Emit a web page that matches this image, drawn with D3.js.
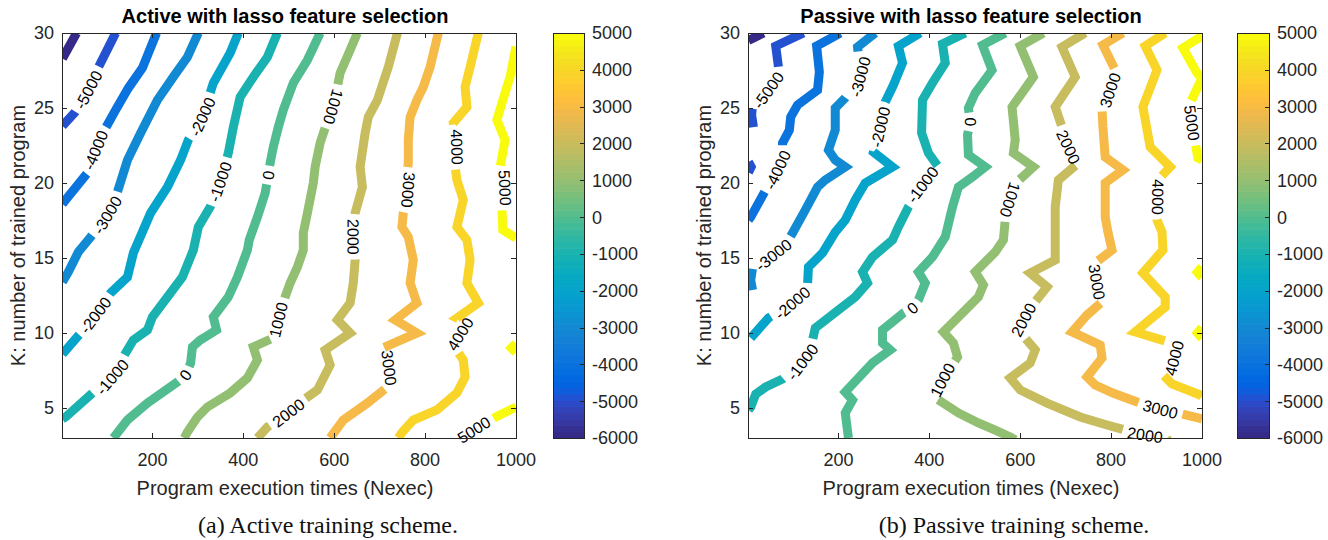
<!DOCTYPE html>
<html><head><meta charset="utf-8">
<script src="https://cdn.jsdelivr.net/npm/d3@7"></script>
<style>body{margin:0;background:#fff}svg{display:block}</style>
</head><body>
<svg id="chart" width="1328" height="540"></svg>
<script>
// ---------------- data ----------------
const levels = [-6000,-5000,-4000,-3000,-2000,-1000,0,1000,2000,3000,4000,5000];
const xTicks = [200,400,600,800,1000];
const yTicks = [5,10,15,20,25,30];
const xDomain = [1,1000];
const yDomain = [3,30];
const cDomain = [-6000,5000];

const titles = ["Active with lasso feature selection","Passive with lasso feature selection"];
const captions = ["(a) Active training scheme.","(b) Passive training scheme."];
const xLabel = "Program execution times (Nexec)";
const yLabel = "K: number of trained program";

// contour lines: [level, [[Nexec, K], ...]]
const activeLines = [
 [-6000,[[33,30],[2,28.3]]],
 [-5000,[[119,30],[81,27.7],[59,26.2],[29,24.7],[2,23.8]]],
 [-4000,[[209,30],[178,27.67],[147,26.33],[119,24.87],[97,23.67],[75,22.2],[57,20.67],[9,18.87],[2,18.6]]],
 [-3000,[[301,30],[277,28.4],[246,27.07],[211,25.53],[174,23.33],[145,21.53],[123,19.4],[101,17.87],[64,16.4],[37,15.4],[15,14.07],[2,13.4]]],
 [-2000,[[389,30],[371,28.67],[334,26.67],[310,24.4],[279,22.87],[262,21.53],[233,19.73],[196,18],[158,15.33],[145,13.73],[108,12.67],[75,11.2],[42,10],[2,8.6]]],
 [-1000,[[475,30],[453,28.4],[422,27.07],[393,25.73],[378,23.73],[367,22],[349,20.07],[327,18.4],[301,17.07],[290,15.53],[266,13.73],[233,12.4],[200,11.07],[189,10.2],[158,9.53],[141,8.67],[112,7.07],[68,6],[9,4.4],[2,4.27]]],
 [0,[[569,30],[541,28.2],[510,26.67],[488,24.87],[477,23.73],[466,22.4],[459,21.33],[455,20.53],[448,19.33],[431,17.73],[413,16.2],[409,15.53],[387,13.73],[367,12.4],[334,11.07],[341,10.2],[305,9.53],[288,9.07],[284,8],[273,7.2],[255,6.73],[189,5.33],[145,4.2],[114,3]]],
 [1000,[[651,30],[635,28.87],[613,27.33],[598,25.07],[580,23.67],[569,22.67],[558,21.07],[554,20],[541,18],[532,16.67],[532,15.53],[519,14.4],[503,13.33],[492,12.4],[477,10.87],[470,9.73],[422,9.07],[431,8.2],[409,7],[371,6],[321,5.07],[299,4.4],[277,3.4],[270,3]]],
 [2000,[[739,30],[719,27.73],[695,25.53],[675,24.4],[668,23.33],[657,21.07],[662,19.73],[646,18],[642,16.4],[646,14.87],[642,13.33],[635,12],[607,10.87],[635,10],[580,8.87],[591,7.87],[563,6.2],[532,5.53],[499,4.67],[453,3.73],[431,3]]],
 [3000,[[829,30],[811,27.73],[796,26.4],[782,25.53],[767,24.4],[763,22.87],[763,21.33],[761,20.87],[763,19.53],[752,18],[749,17.07],[763,16.4],[774,14.87],[767,13.33],[782,12],[734,10.87],[782,10],[706,9],[721,7.67],[717,6.4],[673,5.33],[620,4.2],[591,3]]],
 [4000,[[917,30],[899,27.73],[888,26.4],[892,25.07],[862,24],[870,22.4],[866,21.07],[870,20.2],[884,18.87],[870,17.07],[892,16.2],[899,14.87],[892,13.33],[917,12],[870,11],[892,10.67],[877,9.93],[862,9.2],[884,8.2],[888,7.07],[870,6],[826,4.87],[774,4.2],[750,3.4],[741,3]]],
 [5000,[[1000,29.1],[987,27.07],[971,25.53],[958,24.2],[976,22.87],[965,21.07],[976,19.67],[969,18.33],[971,16.87],[1000,16.33]]],
 [5000,[[1000,9.3],[990,9.0],[1000,8.7]]],
 [5000,[[1000,5.07],[960,4.47],[921,3.8],[866,2.73]]]
];
// labels: [level, Nexec, K, reading direction]
const activeLabels = [
 [-5000,59,26.2,"u"],[-4000,75,22.2,"u"],[-3000,101,17.87,"u"],
 [-2000,310,24.4,"u"],[-2000,75,11.2,"u"],
 [-1000,349,20.07,"u"],[-1000,112,7.07,"u"],
 [0,455,20.53,""],[0,273,7.2,""],
 [1000,598,25.07,"d"],[1000,477,10.87,"u"],
 [2000,642,16.4,"d"],[2000,499,4.67,"u"],
 [3000,763,19.53,"d"],[3000,721,7.67,"d"],
 [4000,870,22.4,"d"],[4000,877,9.93,"u"],
 [5000,976,19.67,"d"],[5000,908,3.53,""]
];

const passiveLines = [
 [-6000,[[35,30],[2,29.5]]],
 [-5000,[[123,30],[62,29.13],[68,27.73],[46,26.2],[11,25.2],[9,24.53],[13,23.73]]],
 [-5000,[[2,21.4],[8,21.07],[2,20.7]]],
 [-4000,[[204,30],[152,29.13],[158,27.4],[154,26.2],[110,25.2],[95,24.4],[92,23.53],[77,22.67],[77,21.87],[66,20.87],[46,19.87],[7,17.73],[2,17.53]]],
 [-3000,[[281,30],[242,29.07],[244,28.53],[248,27.07],[215,25.67],[193,25],[193,23.53],[178,22.2],[193,21.53],[215,21.07],[171,20.2],[154,19.73],[127,18.2],[99,16.67],[90,16.2],[57,15.2],[11,14.33],[7,13.53],[11,12.87]]],
 [-2000,[[380,30],[332,29.13],[341,28],[321,26.53],[303,25.4],[292,23.73],[277,22.07],[319,21.07],[259,20],[237,18.87],[215,17.53],[193,16.73],[165,15.33],[134,14.4],[132,13.2],[99,12],[46,11],[7,9.67]]],
 [-1000,[[479,30],[429,29.27],[435,28],[407,26.67],[385,25.53],[383,23.33],[398,22],[420,21.07],[385,19.87],[354,18.4],[332,17.07],[319,16.2],[275,15.07],[253,14.07],[264,13.33],[237,12.4],[200,11.53],[149,10.33],[143,9.53],[121,8.07],[77,6.93],[40,6.4],[18,5.93],[7,5.07],[2,4.87]]],
 [0,[[567,30],[517,29.2],[538,27.53],[501,26],[486,25],[490,24.07],[484,23.2],[486,21.87],[523,21.07],[495,20.4],[464,19.73],[451,18.4],[435,16.4],[407,15.07],[376,14.07],[391,13.33],[376,12.2],[363,11.67],[343,11.33],[297,10.2],[297,9.33],[314,8.87],[275,8],[215,6.07],[231,5.53],[215,4.67],[222,3]]],
 [1000,[[651,30],[600,29.13],[629,27.07],[582,25.07],[589,22.87],[585,22],[629,21.07],[593,20.07],[578,18.87],[567,17.53],[563,16.2],[545,15.4],[501,14.07],[519,13.2],[508,12.4],[464,11.07],[431,10.07],[453,9.33],[462,8.4],[446,7.67],[429,6.87],[413,5.67],[464,4.67],[508,4],[545,3.53],[578,3.07],[589,2.87]]],
 [2000,[[743,30],[692,29.07],[721,27.07],[677,25.07],[692,23.73],[706,22.4],[728,21.33],[684,20.2],[677,18.4],[677,16.73],[677,14.87],[622,14],[659,13.07],[622,11.67],[607,10.87],[596,10.2],[633,8.87],[622,8],[578,7],[600,6.2],[659,5.33],[732,4.4],[791,3.87],[831,3.53],[875,3.2],[919,3.13],[925,2.87]]],
 [3000,[[826,30],[782,29.2],[809,27.53],[798,26.2],[780,24.87],[782,23.73],[787,21.73],[826,20.87],[787,20],[787,17.73],[793,16.73],[802,15.53],[765,14.67],[769,13.4],[780,12.07],[747,11.2],[714,10.07],[776,9.2],[780,8.33],[747,7.07],[765,6.53],[804,6],[864,5.33],[908,4.93],[956,4.6],[1000,4.27]]],
 [4000,[[919,30],[875,29.13],[901,27.53],[870,25.07],[886,22.4],[930,21.07],[903,20.2],[903,19.07],[901,17.53],[912,16.73],[914,15.53],[870,14],[919,12.4],[919,11.73],[853,10.07],[934,9.33],[939,8.33],[912,7.27],[934,6.6],[996,5.87],[1000,5.75]]],
 [5000,[[1000,29.8],[958,29],[989,27.33],[1000,27],[974,25.33],[978,24],[985,22.67],[991,21.67],[1000,21.53]]],
 [5000,[[1000,14.4],[990,14.05],[1000,13.7]]],
 [5000,[[1000,10.35],[990,10.0],[1000,9.65]]]
];
const passiveLabels = [
 [-5000,46,26.2,"u"],[-4000,66,20.87,"u"],
 [-3000,248,27.07,"u"],[-3000,57,15.2,"u"],
 [-2000,292,23.73,"u"],[-2000,99,12,"u"],
 [-1000,385,19.87,"u"],[-1000,121,8.07,"u"],
 [0,490,24.07,""],[0,363,11.67,""],
 [1000,578,18.87,"d"],[1000,429,6.87,"u"],
 [2000,706,22.4,"d"],[2000,607,10.87,"u"],[2000,875,3.2,""],
 [3000,798,26.2,"u"],[3000,769,13.4,"d"],[3000,908,4.93,""],
 [4000,903,19.07,"d"],[4000,939,8.33,"u"],
 [5000,978,24,"d"]
];

// parula colormap (64 entries)
const parula = [[0.2081,0.1663,0.5292],[0.2116,0.1898,0.5777],[0.2123,0.2138,0.6270],[0.2081,0.2386,0.6771],[0.1959,0.2645,0.7279],[0.1707,0.2919,0.7792],[0.1253,0.3242,0.8303],[0.0591,0.3598,0.8683],[0.0117,0.3875,0.8820],[0.0060,0.4086,0.8828],[0.0165,0.4266,0.8786],[0.0329,0.4430,0.8720],[0.0498,0.4586,0.8641],[0.0629,0.4737,0.8554],[0.0723,0.4887,0.8467],[0.0779,0.5040,0.8384],[0.0793,0.5200,0.8312],[0.0749,0.5375,0.8263],[0.0641,0.5570,0.8240],[0.0488,0.5772,0.8228],[0.0343,0.5966,0.8199],[0.0265,0.6137,0.8135],[0.0239,0.6287,0.8038],[0.0231,0.6418,0.7913],[0.0228,0.6535,0.7768],[0.0267,0.6642,0.7607],[0.0384,0.6743,0.7436],[0.0590,0.6838,0.7254],[0.0843,0.6928,0.7062],[0.1133,0.7015,0.6859],[0.1453,0.7098,0.6646],[0.1801,0.7177,0.6424],[0.2178,0.7250,0.6193],[0.2586,0.7317,0.5954],[0.3022,0.7376,0.5712],[0.3482,0.7424,0.5473],[0.3953,0.7459,0.5244],[0.4420,0.7481,0.5033],[0.4871,0.7491,0.4840],[0.5300,0.7491,0.4661],[0.5709,0.7485,0.4494],[0.6099,0.7473,0.4337],[0.6473,0.7456,0.4188],[0.6834,0.7435,0.4044],[0.7184,0.7411,0.3905],[0.7525,0.7384,0.3768],[0.7858,0.7356,0.3633],[0.8185,0.7327,0.3498],[0.8507,0.7299,0.3360],[0.8824,0.7274,0.3217],[0.9139,0.7258,0.3063],[0.9450,0.7261,0.2886],[0.9739,0.7314,0.2666],[0.9938,0.7455,0.2403],[0.9990,0.7653,0.2164],[0.9955,0.7861,0.1967],[0.9880,0.8066,0.1794],[0.9789,0.8271,0.1633],[0.9697,0.8481,0.1475],[0.9626,0.8705,0.1309],[0.9589,0.8949,0.1132],[0.9598,0.9218,0.0948],[0.9661,0.9514,0.0755],[0.9763,0.9831,0.0538]];
const parulaHex = parula.map(c => d3.rgb(c[0]*255,c[1]*255,c[2]*255).formatHex());
const parulaInterp = d3.interpolateRgbBasis ? d3.piecewise(d3.interpolateRgb, parulaHex) : null;

// ---------------- drawing ----------------
const svg = d3.select("#chart");
const FONT = "'Liberation Sans', Arial, Helvetica, sans-serif";
const AX = "#262626";
const colorScale = d3.scaleLinear().domain(cDomain).range([0,1]).clamp(true);
const colorOf = v => parulaInterp(colorScale(v));

const panels = [
  {x0:62, x1:516, y0:33, y1:438, cb0:553, cb1:584, capX:328, lines:activeLines, labels:activeLabels, title:titles[0], caption:captions[0]},
  {x0:748, x1:1202, y0:33, y1:438, cb0:1237, cb1:1269, capX:1014, lines:passiveLines, labels:passiveLabels, title:titles[1], caption:captions[1]}
];

panels.forEach((P, pi) => {
  const g = svg.append("g");
  const x = d3.scaleLinear().domain(xDomain).range([P.x0, P.x1]);
  const y = d3.scaleLinear().domain(yDomain).range([P.y1, P.y0]);
  const clipId = "clip" + pi;
  g.append("clipPath").attr("id", clipId).append("rect")
    .attr("x", P.x0).attr("y", P.y0).attr("width", P.x1-P.x0).attr("height", P.y1-P.y0);

  const lineGen = d3.line().x(d => x(d[0])).y(d => y(d[1]));
  const lineLayer = g.append("g").attr("clip-path", `url(#${clipId})`);
  const labelLayer = g.append("g");

  const paths = P.lines.map(([lvl, pts]) => {
    const p = lineLayer.append("path")
      .attr("d", lineGen(pts))
      .attr("fill", "none")
      .attr("stroke", colorOf(lvl))
      .attr("stroke-width", 9)
      .attr("stroke-linejoin", "miter")
      .attr("stroke-miterlimit", 2.5)
      .attr("stroke-linecap", "butt");
    return {lvl, node: p.node(), gaps: [], L: p.node().getTotalLength()};
  });

  const pad = 5;
  P.labels.forEach(([lvl, lx, ly, mode]) => {
    const px = x(lx), py = y(ly);
    let best = null;
    paths.filter(p => p.lvl === lvl).forEach(p => {
      for (let s = 0; s <= p.L; s += 0.5) {
        const pt = p.node.getPointAtLength(s);
        const d = (pt.x-px)*(pt.x-px) + (pt.y-py)*(pt.y-py);
        if (!best || d < best.d) best = {d, s, p};
      }
    });
    if (!best) return;
    const t = labelLayer.append("text").text(String(lvl))
      .attr("font-family", FONT).attr("font-size", 16).attr("fill", "#000")
      .attr("text-anchor", "middle").attr("dy", "0.36em");
    const w = t.node().getComputedTextLength();
    const N = best.p.node, L = best.p.L, s0 = best.s;
    const a = N.getPointAtLength(Math.max(0, s0-10)), b = N.getPointAtLength(Math.min(L, s0+10));
    let dx = b.x-a.x, dy = b.y-a.y;
    if ((mode === "d" && dy < 0) || (mode === "u" && dy > 0)) { dx = -dx; dy = -dy; }
    let ang = Math.atan2(dy, dx) * 180 / Math.PI;
    if (mode === "") { if (ang > 90) ang -= 180; if (ang <= -90) ang += 180; }
    const c = N.getPointAtLength(s0);
    t.attr("transform", `translate(${c.x},${c.y}) rotate(${ang})`);
    best.p.gaps.push([s0 - w/2 - pad, s0 + w/2 + pad]);
  });

  paths.forEach(p => {
    if (!p.gaps.length) return;
    const gaps = p.gaps.sort((m, n) => m[0]-n[0]);
    const arr = [];
    let pos = 0;
    gaps.forEach(([a, b]) => {
      a = Math.max(a, pos); b = Math.min(Math.max(b, a), p.L + 1);
      arr.push(Math.max(0, a - pos), b - a);
      pos = b;
    });
    arr.push(Math.max(0, p.L - pos) + 2, 5000);
    d3.select(p.node).attr("stroke-dasharray", arr.join(" "));
  });

  // axes box and ticks
  const ax = g.append("g").attr("stroke", AX).attr("stroke-width", 1).attr("fill", "none");
  ax.append("rect").attr("x", P.x0+0.5).attr("y", P.y0+0.5).attr("width", P.x1-P.x0).attr("height", P.y1-P.y0);
  const tl = 5;
  xTicks.forEach(v => {
    const xx = Math.round(x(v)) + 0.5;
    ax.append("line").attr("x1", xx).attr("x2", xx).attr("y1", P.y1).attr("y2", P.y1 - tl);
    ax.append("line").attr("x1", xx).attr("x2", xx).attr("y1", P.y0).attr("y2", P.y0 + tl);
  });
  yTicks.forEach(v => {
    const yy = Math.round(y(v)) + 0.5;
    ax.append("line").attr("x1", P.x0).attr("x2", P.x0 + tl).attr("y1", yy).attr("y2", yy);
    ax.append("line").attr("x1", P.x1).attr("x2", P.x1 - tl).attr("y1", yy).attr("y2", yy);
  });
  const txt = g.append("g").attr("font-family", FONT).attr("fill", AX);
  xTicks.forEach(v => {
    txt.append("text").attr("x", x(v)).attr("y", 466).attr("text-anchor", "middle").attr("font-size", 18).text(v);
  });
  yTicks.forEach(v => {
    txt.append("text").attr("x", P.x0 - 8).attr("y", y(v)).attr("dy", "0.36em").attr("text-anchor", "end").attr("font-size", 18).text(v);
  });
  const cx = (P.x0 + P.x1) / 2 - 4;
  txt.append("text").attr("x", cx).attr("y", 495).attr("text-anchor", "middle").attr("font-size", 20).text(xLabel);
  txt.append("text").attr("transform", `translate(${P.x0-37},${(P.y0+P.y1)/2}) rotate(-90)`)
     .attr("text-anchor", "middle").attr("font-size", 20).text(yLabel);
  g.append("text").attr("x", cx).attr("y", 23).attr("text-anchor", "middle")
     .attr("font-family", FONT).attr("font-weight", "bold").attr("font-size", 20).attr("fill", "#000").text(P.title);
  g.append("text").attr("x", P.capX).attr("y", 533).attr("text-anchor", "middle")
     .attr("font-family", "'Liberation Serif', 'Times New Roman', serif").attr("font-size", 24).attr("fill", "#111").text(P.caption);

  // colorbar
  const cy = d3.scaleLinear().domain(cDomain).range([P.y1, P.y0]);
  const nb = parulaHex.length, step = (cDomain[1]-cDomain[0]) / nb;
  const cb = g.append("g");
  cb.selectAll("rect.bin").data(parulaHex).join("rect").attr("class", "bin")
    .attr("x", P.cb0).attr("width", P.cb1 - P.cb0)
    .attr("y", (d, i) => cy(cDomain[0] + (i+1)*step))
    .attr("height", (d, i) => cy(cDomain[0] + i*step) - cy(cDomain[0] + (i+1)*step) + 0.6)
    .attr("fill", d => d);
  cb.append("rect").attr("x", P.cb0+0.5).attr("y", P.y0+0.5).attr("width", P.cb1-P.cb0).attr("height", P.y1-P.y0)
    .attr("fill", "none").attr("stroke", AX).attr("stroke-width", 1);
  levels.forEach(v => {
    const yy = Math.round(cy(v)) + 0.5;
    cb.append("line").attr("x1", P.cb1).attr("x2", P.cb1 - 4).attr("y1", yy).attr("y2", yy).attr("stroke", AX);
    cb.append("text").attr("x", P.cb1 + 8).attr("y", cy(v)).attr("dy", "0.36em")
      .attr("font-family", FONT).attr("font-size", 18).attr("fill", AX).text(v);
  });
});
</script>
</body></html>
